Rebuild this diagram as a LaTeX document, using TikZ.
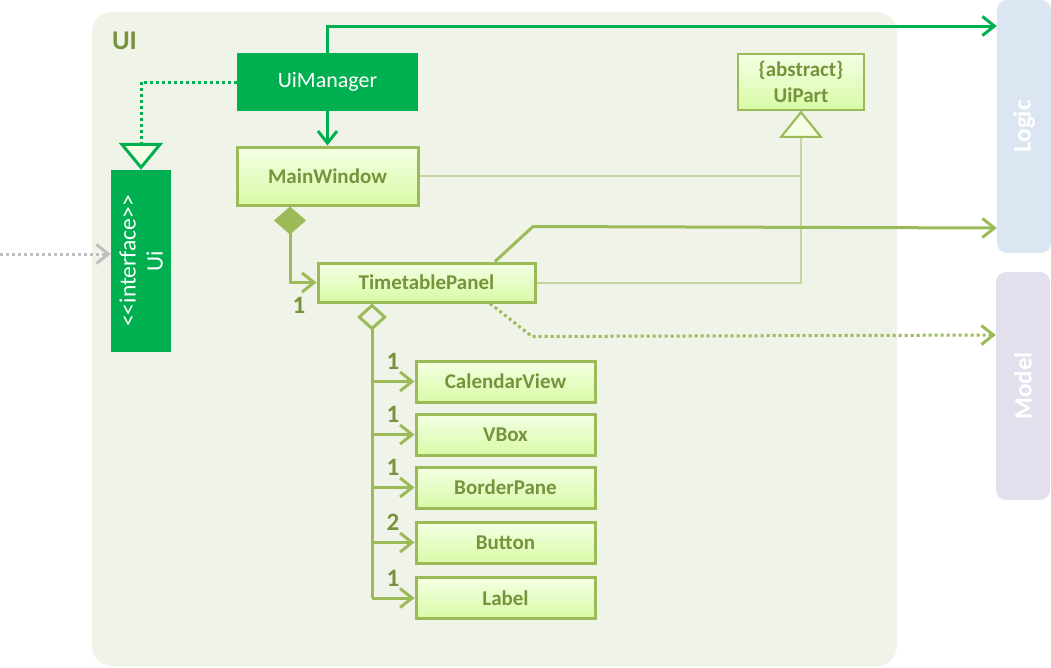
\documentclass[tikz,border=0pt]{standalone}
\usepackage{fontspec}
\setmainfont{Carlito}
\usetikzlibrary{arrows.meta}
\definecolor{uigreen}{HTML}{00B050}
\definecolor{uiolive}{HTML}{77933C}
\definecolor{border}{HTML}{9BBB59}
\definecolor{thinline}{HTML}{C3D69B}
\definecolor{pkgfill}{HTML}{F0F3E8}
\definecolor{boxtop}{HTML}{F4FFE4}
\definecolor{boxbot}{HTML}{D8FBA6}
\definecolor{logicfill}{HTML}{DCE6F2}
\definecolor{modelfill}{HTML}{E4DFEC}
\definecolor{extgray}{HTML}{BFBFBF}
\newcommand{\fsz}{\fontsize{21}{26}\selectfont}
\begin{document}
\begin{tikzpicture}[x=1pt,y=-1pt,
    every node/.style={inner sep=0pt,font=\fsz},
    cls/.style={draw=border,line width=3pt,top color=boxtop,bottom color=boxbot,
      text=uiolive,font=\bfseries\fsz,minimum width=179pt,minimum height=41pt},
    grnbox/.style={fill=uigreen,text=white,font=\fontsize{22}{26}\selectfont},
    layerbox/.style={rounded corners=10pt,minimum width=54pt},
    layertext/.style={rotate=90,text=white,font=\bfseries\fontsize{25}{30}\selectfont},
    mult/.style={text=uiolive,font=\bfseries\fontsize{25}{30}\selectfont},
    assoc/.style={draw=border,line width=3pt,-{Straight Barb[length=12pt,width=19pt]}},
    mgrline/.style={draw=uigreen,line width=3pt,-{Straight Barb[length=12pt,width=19pt]}},
    real/.style={draw=uigreen,line width=3pt,dash pattern=on 3pt off 3pt,
      -{Triangle[length=27pt,width=44pt,fill=boxtop]}},
    gen/.style={draw=thinline,line width=2pt,
      -{Triangle[length=27pt,width=43pt,color=border,fill=boxtop]}},
    dots/.style={draw=border,line width=3pt,dash pattern=on 3pt off 3pt,
      -{Straight Barb[length=12pt,width=19pt]}}]
  \useasboundingbox (0,0) rectangle (1051,667);
  % UI package
  \fill[pkgfill,rounded corners=20pt] (92,12) rectangle (897,666);
  \node[text=uiolive,font=\bfseries\fontsize{27}{32}\selectfont] (uilabel) at (124.5,41) {UI};

  % other components
  \node[layerbox,fill=logicfill,minimum height=253pt,
    label={[layertext]center:Logic}] (logic) at (1024,126.5) {};
  \node[layerbox,fill=modelfill,minimum height=228pt,
    label={[layertext]center:Model}] (model) at (1023,386) {};

  % classes
  \node[grnbox,minimum width=181pt,minimum height=58pt] (mgr) at (327.5,82) {UiManager};
  \node[grnbox,minimum width=60pt,minimum height=182pt,
    label={[rotate=90,align=center,text=white,font=\fontsize{23.5}{27}\selectfont]center:<\kern0pt<interface>\kern0pt>\\Ui}] (ui) at (141,261) {};
  \node[cls,minimum width=181pt,minimum height=58pt] (mw) at (327.5,176) {MainWindow};
  \node[cls,minimum width=217pt,minimum height=39pt] (tp) at (426.5,282.5) {TimetablePanel};
  \node[cls,line width=1.5pt,minimum width=126pt,minimum height=56pt,align=center] (up) at (801,82) {\{abstract\}\\UiPart};

  % connectors
  \coordinate (ext) at (0,254);
  \draw[draw=extgray,line width=3pt,dash pattern=on 3pt off 3pt,
    -{Straight Barb[length=12pt,width=19pt]}] (ext) -- (ui.west |- ext);
  \draw[real] (mgr.west) -| (ui.north);
  \draw[mgrline] (mgr) -- (mw);
  \draw[mgrline] (mgr.north) |- (logic.west |- 0,26);
  \draw[gen] (mw.east) -| (up.south);
  \draw[gen] (tp.east) -| (up.south);
  \draw[assoc] (tp.north -| 495,0) -- ++(38,-35) -- (logic.west |- 0,228);
  \draw[dots] (tp.south -| 490,0) -- ++(42,33) -- (model.west |- 0,335);
  \draw[assoc,{Diamond[length=28pt,width=32pt,fill=border]}-{Straight Barb[length=12pt,width=19pt]}]
    (mw.south -| 290,0) |- (tp.west);
  \node[mult] (m0) at (299,305) {1};

  \foreach \n/\t/\y/\m in {cal/CalendarView/381.5/1,vbox/VBox/434.5/1,
      bp/BorderPane/487.5/1,btn/Button/542.5/2,lbl/Label/598/1}{
    \node[cls] (\n) at (505.5,\y) {\t};
    \draw[assoc] (\n.west -| 372,0) -- (\n.west);
    \node[mult] (m\n) at (393,\y-20) {\m};
  }
  \draw[draw=border,line width=3pt,{Diamond[length=27pt,width=30pt,fill=pkgfill]}-]
    (tp.south -| 372,0) -- (lbl.west -| 372,0);
\end{tikzpicture}
\end{document}
